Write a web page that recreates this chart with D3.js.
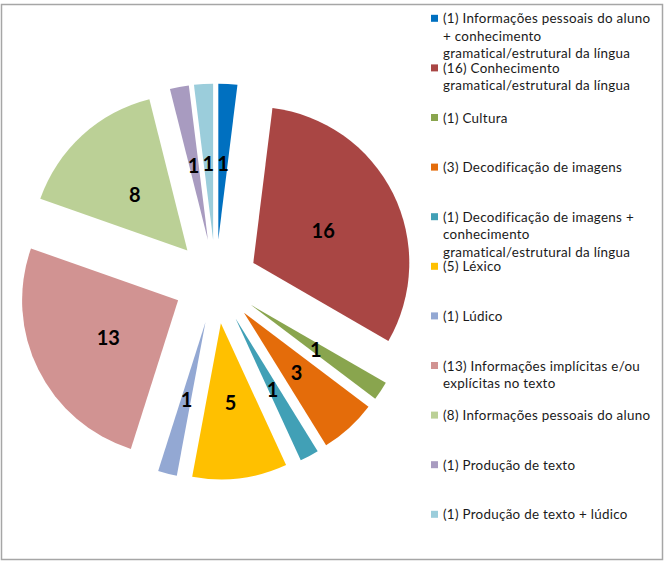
<!DOCTYPE html>
<html>
<head>
<meta charset="utf-8">
<script src="https://cdn.jsdelivr.net/npm/d3@7"></script>
<style>
  html, body { margin: 0; padding: 0; background: #fff; }
  svg { display: block; }
</style>
</head>
<body>
<script>
const categories = [
  "(1) Informações pessoais do aluno + conhecimento gramatical/estrutural da língua",
  "(16) Conhecimento gramatical/estrutural da língua",
  "(1) Cultura",
  "(3) Decodificação de imagens",
  "(1) Decodificação de imagens + conhecimento gramatical/estrutural da língua",
  "(5) Léxico",
  "(1) Lúdico",
  "(13) Informações implícitas e/ou explícitas no texto",
  "(8) Informações pessoais do aluno",
  "(1) Produção de texto",
  "(1) Produção de texto + lúdico"
];
const values = [1, 16, 1, 3, 1, 5, 1, 13, 8, 1, 1];
const colors = ["#0070C0", "#A94644", "#89A54E", "#E46C0A", "#41A0B6", "#FFC000",
                "#93A8D3", "#D19392", "#BBD096", "#A89BC0", "#9BCDDB"];

const W = 669, H = 566;
const svg = d3.select("body").append("svg").attr("width", W).attr("height", H);

// chart border
svg.append("rect").attr("x", 1.5).attr("y", 4.5).attr("width", 661).attr("height", 555)
  .attr("fill", "#fff").attr("stroke", "#a6a6a6").attr("stroke-width", 1.5);

const cx = 215.7, cy = 281.6, R = 156, explode = 42;
const pie = d3.pie().sort(null).value(d => d.v).startAngle(0).endAngle(2 * Math.PI);
const data = values.map((v, i) => ({ v, i }));
const arcs = pie(data);
const arc = d3.arc().innerRadius(0).outerRadius(R);

const g = svg.append("g").attr("transform", `translate(${cx},${cy})`);
const slice = g.selectAll("g.slice").data(arcs).enter().append("g")
  .attr("class", "slice")
  .attr("transform", d => {
    const a = (d.startAngle + d.endAngle) / 2;
    return `translate(${explode * Math.sin(a)},${-explode * Math.cos(a)})`;
  });
slice.append("path").attr("d", arc).attr("fill", d => colors[d.data.i]);
slice.append("text")
  .attr("transform", d => {
    const c = arc.centroid(d);
    return `translate(${c[0]},${c[1] + 1.5})`;
  })
  .attr("text-anchor", "middle")
  .attr("dominant-baseline", "central")
  .attr("font-family", "Lato, 'Open Sans', sans-serif")
  .attr("font-weight", "bold")
  .attr("font-size", 20)
  .attr("fill", "#000")
  .text(d => d.data.v);

// legend
const legX = 431, legY0 = 18.3, legStep = 49.6, maxW = 213, lineH = 17.4;
const fontSize = 13.4;
const leg = svg.append("g");
// calibrate letter spacing so the first legend line spans ~207px as in the reference
const probe = leg.append("text").attr("font-family", "Lato, 'Open Sans', sans-serif")
  .attr("font-size", fontSize).text("(1) Informações pessoais do aluno");
const pw = probe.node().getComputedTextLength();
probe.remove();
const ls = Math.max(0, (207 - pw) / 32);

categories.forEach((c, i) => {
  const y = legY0 + i * legStep;
  leg.append("rect").attr("x", legX).attr("y", y - 3.5).attr("width", 7).attr("height", 7)
    .attr("fill", colors[i]);
  const t = leg.append("text").attr("x", legX + 12).attr("y", y)
    .attr("font-family", "Lato, 'Open Sans', sans-serif")
    .attr("font-size", fontSize).attr("fill", "#1a1a1a")
    .attr("letter-spacing", ls)
    .attr("dominant-baseline", "central");
  const words = c.split(" ");
  let line = [];
  let ts = t.append("tspan").attr("x", legX + 12).attr("dy", 0);
  words.forEach(w => {
    line.push(w);
    ts.text(line.join(" "));
    if (ts.node().getComputedTextLength() > maxW && line.length > 1) {
      line.pop();
      ts.text(line.join(" "));
      line = [w];
      ts = t.append("tspan").attr("x", legX + 12).attr("dy", lineH).text(w);
    }
  });
});
</script>
</body>
</html>
